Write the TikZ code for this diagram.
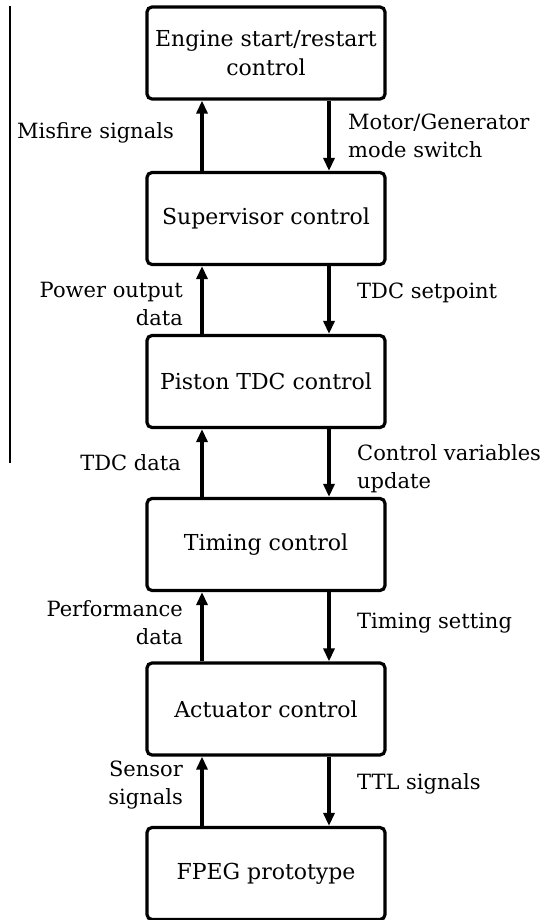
\documentclass[tikz,border=0pt]{standalone}
\usepackage{fontspec}
\setmainfont{DejaVu Serif}
\usetikzlibrary{arrows.meta}

\begin{document}
\begin{tikzpicture}[x=1pt,y=-1pt,
  block/.style={draw,line width=3.2pt,rounded corners=5pt,minimum width=238pt,minimum height=92pt,align=center,inner sep=0pt,font=\fontsize{22}{29}\selectfont},
  flow/.style={line width=3.2pt,-{Triangle[length=13pt,width=11pt]}},
  lbl/.style={align=right,anchor=east,inner sep=0pt,font=\fontsize{21}{28}\selectfont},
  rbl/.style={align=left,anchor=west,inner sep=0pt,font=\fontsize{21}{28}\selectfont}]
\useasboundingbox (0,0) rectangle (547,920);
\draw[line width=1.5pt] (10,6) -- (10,463);
\node[block] (eng) at (266,53) {Engine start/restart\\control};
\node[block] (sup) at (266,218.5) {Supervisor control};
\node[block] (pis) at (266,381.5) {Piston TDC control};
\node[block] (tim) at (266,544.5) {Timing control};
\node[block] (act) at (266,709) {Actuator control};
\node[block] (fpeg) at (266,873.5) {FPEG prototype};
\draw[flow] ([xshift=-64pt]sup.north) -- ([xshift=-64pt]eng.south);
\draw[flow] ([xshift=63pt]eng.south) -- ([xshift=63pt]sup.north);
\draw[flow] ([xshift=-64pt]pis.north) -- ([xshift=-64pt]sup.south);
\draw[flow] ([xshift=63pt]sup.south) -- ([xshift=63pt]pis.north);
\draw[flow] ([xshift=-64pt]tim.north) -- ([xshift=-64pt]pis.south);
\draw[flow] ([xshift=63pt]pis.south) -- ([xshift=63pt]tim.north);
\draw[flow] ([xshift=-64pt]act.north) -- ([xshift=-64pt]tim.south);
\draw[flow] ([xshift=63pt]tim.south) -- ([xshift=63pt]act.north);
\draw[flow] ([xshift=-64pt]fpeg.north) -- ([xshift=-64pt]act.south);
\draw[flow] ([xshift=63pt]act.south) -- ([xshift=63pt]fpeg.north);
\node[lbl] (misfire) at (174,133) {Misfire signals};
\node[rbl] (mode) at (348,136) {Motor/Generator\\mode switch};
\node[lbl] (power) at (183,304) {Power output\\data};
\node[rbl] (setp) at (357,293) {TDC setpoint};
\node[lbl] (tdcdata) at (181,463) {TDC data};
\node[rbl] (ctrlvar) at (357,469) {Control variables\\update};
\node[lbl] (perf) at (183,623) {Performance\\data};
\node[rbl] (tset) at (357,623) {Timing setting};
\node[lbl] (sensor) at (183,785) {Sensor\\signals};
\node[rbl] (ttl) at (357,784) {TTL signals};
\end{tikzpicture}
\end{document}
